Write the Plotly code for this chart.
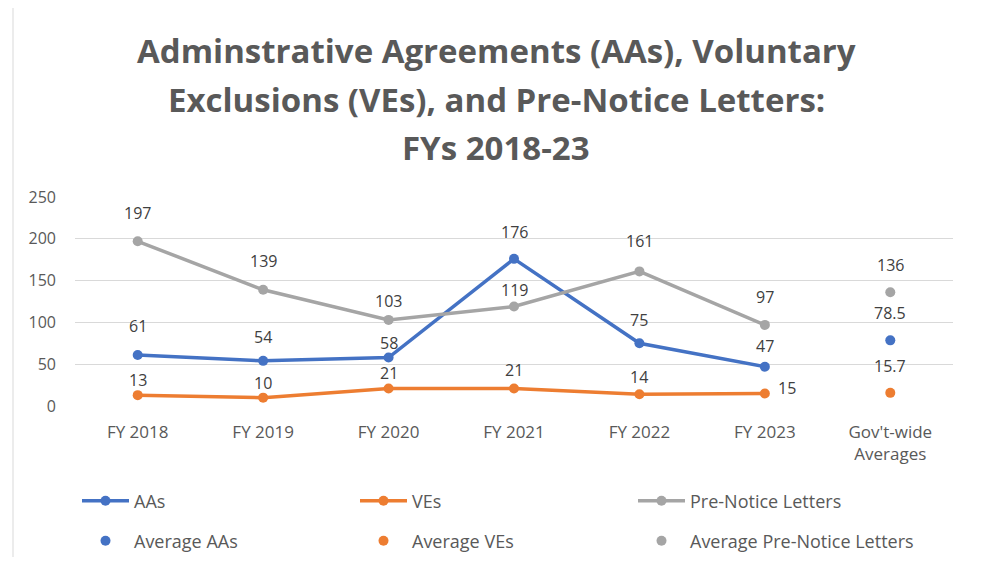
import plotly.graph_objects as go

# ---- data ----
categories = ["FY 2018", "FY 2019", "FY 2020", "FY 2021", "FY 2022", "FY 2023", "Gov't-wide Averages"]
tick_labels = ["FY 2018", "FY 2019", "FY 2020", "FY 2021", "FY 2022", "FY 2023", "Gov't-wide<br>Averages"]
years = categories[:6]
aas = [61, 54, 58, 176, 75, 47]
ves = [13, 10, 21, 21, 14, 15]
pre_notice = [197, 139, 103, 119, 161, 97]
avg_category = categories[6]
avg_aas = 78.5
avg_ves = 15.7
avg_pre_notice = 136
y_ticks = [0, 50, 100, 150, 200, 250]

title_lines = [
    "Adminstrative Agreements (AAs), Voluntary",
    "Exclusions (VEs), and Pre-Notice Letters:",
    "FYs 2018-23",
]

# ---- style ----
BLUE, ORANGE, GRAY = "#4472C4", "#ED7D31", "#A5A5A5"
TXT = "#595959"
LBL = "#404040"
FONT = "Open Sans"
OFF = 8  # page body margin
W, H = 981 - OFF, 565 - 2 * OFF
ML, MT = 75 - OFF, 197 - OFF
PW, PH = 878, 209
MR, MB = W - ML - PW, H - MT - PH


def px_x(p):
    return (p - OFF - ML) / PW


def px_y(p):
    return (MT + PH - (p - OFF)) / PH


def cx(p):
    return (p - OFF) / W


def cy(p):
    return 1 - (p - OFF) / H


# label offsets (pixels above the point)
dy_aas = [29, 24, 15, 27, 23, 21]
dy_ves = [15, 15, 15, 18, 17, 5]
dx_ves = [0, 0, 0, 0, 0, 22]
dy_pre = [28, 29, 19, 17, 30, 28]
dy_avg = 27

fig = go.Figure()

series = [("AAs", aas, BLUE), ("VEs", ves, ORANGE), ("Pre-Notice Letters", pre_notice, GRAY)]
avgs = [("Average AAs", avg_aas, BLUE), ("Average VEs", avg_ves, ORANGE),
        ("Average Pre-Notice Letters", avg_pre_notice, GRAY)]

col_x = [77, 355, 633]
row_y = [501, 541]
legend_layout = {}
legend_common = dict(
    orientation="h", xanchor="left", yanchor="middle",
    xref="container", yref="container", itemwidth=47,
    font=dict(family=FONT, size=18, color=TXT), bgcolor="rgba(0,0,0,0)",
)

for k, (name, vals, col) in enumerate(series):
    lid = "legend" if k == 0 else f"legend{k + 1}"
    legend_layout[lid] = dict(x=cx(col_x[k]), y=cy(row_y[0]), **legend_common)
    fig.add_trace(go.Scatter(
        x=years, y=vals, name=name, mode="lines+markers",
        line=dict(color=col, width=3.5), marker=dict(color=col, size=10),
        legend=lid,
    ))

for k, (name, v, col) in enumerate(avgs):
    lid = f"legend{k + 4}"
    legend_layout[lid] = dict(x=cx(col_x[k]), y=cy(row_y[1]), **legend_common)
    fig.add_trace(go.Scatter(
        x=[avg_category], y=[v], name=name, mode="markers",
        marker=dict(color=col, size=10), legend=lid,
    ))

annotations = []
LFONT = dict(family=FONT, size=16, color=LBL)


def add_labels(vals, dys, dxs=None):
    for i, v in enumerate(vals):
        annotations.append(dict(
            x=years[i], y=v, text=f"{v:g}", showarrow=False,
            yshift=dys[i], xshift=(dxs[i] if dxs else 0), font=LFONT,
        ))


add_labels(aas, dy_aas)
add_labels(ves, dy_ves, dx_ves)
add_labels(pre_notice, dy_pre)
for name, v, col in avgs:
    annotations.append(dict(
        x=avg_category, y=v, text=f"{v:g}", showarrow=False, yshift=dy_avg, font=LFONT,
    ))

title_y = [50, 100, 147]
for t, yy in zip(title_lines, title_y):
    annotations.append(dict(
        x=px_x(496), y=px_y(yy), xref="paper", yref="paper", text=f"<b>{t}</b>",
        showarrow=False, xanchor="center", yanchor="middle",
        font=dict(family=FONT, size=33, color=TXT),
    ))

fig.update_layout(
    width=W, height=H,
    margin=dict(l=ML, r=MR, t=MT, b=MB),
    paper_bgcolor="white", plot_bgcolor="white",
    font=dict(family=FONT, color=TXT, size=16),
    annotations=annotations,
    showlegend=True,
    xaxis=dict(
        type="category", categoryorder="array", categoryarray=categories,
        tickvals=categories, ticktext=tick_labels, range=[-0.5, 6.5],
        showgrid=False, showline=False, zeroline=False, ticks="",
        tickfont=dict(family=FONT, size=17, color=TXT), ticklabelstandoff=14,
    ),
    yaxis=dict(
        range=[0, 250], tickvals=y_ticks, showgrid=True, gridcolor="#D9D9D9",
        gridwidth=1, zeroline=False, showline=False, ticks="",
        tickfont=dict(family=FONT, size=16, color=TXT), ticklabelstandoff=18,
    ),
    shapes=[dict(
        type="rect", xref="paper", yref="paper", layer="below",
        x0=px_x(13), x1=px_x(975), y0=px_y(6), y1=px_y(600),
        line=dict(color="#D9D9D9", width=1), fillcolor="rgba(0,0,0,0)",
    )],
    **legend_layout,
)

fig.write_html("out.html")
